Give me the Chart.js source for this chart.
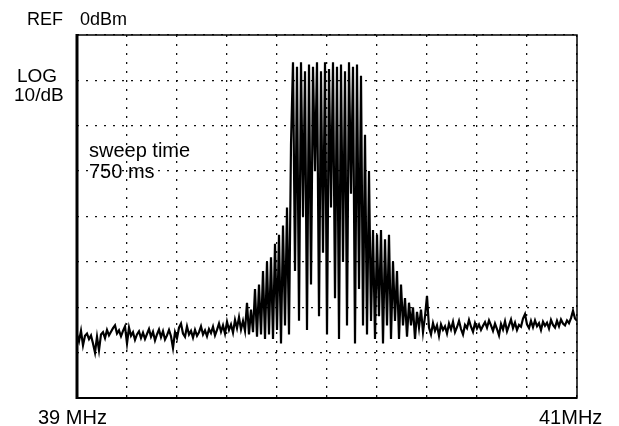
<!DOCTYPE html>
<html>
<head>
<meta charset="utf-8">
<script src="https://cdn.jsdelivr.net/npm/chart.js@4.4.0/dist/chart.umd.min.js"></script>
<style>
  html, body { margin: 0; padding: 0; background: #fff; }
  #wrap { position: relative; width: 619px; height: 426px; }
</style>
</head>
<body>
<div id="wrap"><canvas id="spectrumChart" width="619" height="426"></canvas></div>
<script>
// Spectrum analyzer trace, 39 MHz .. 41 MHz, REF 0 dBm, 10 dB/div

const startMHz = 39;
const stopMHz = 41;
const refLevel = 0;
const bottomLevel = -80;

// noise floor left of the signal (dBm)
const noiseLeft = [
  -66.0, -67.5, -65.2, -68.4, -66.3, -65.8, -67.0, -66.2, -68.0, -70.0,
  -66.5, -69.5, -66.0, -65.5, -66.8, -65.0, -66.2, -65.4, -64.6, -64.0,
  -65.8, -65.1, -66.4, -65.2, -64.2, -68.0, -64.5, -66.3, -65.5, -67.2,
  -66.0, -65.3, -66.8, -65.6, -67.0, -65.9, -64.8, -66.5, -65.4, -67.3,
  -66.0, -64.9, -66.6, -65.3, -67.1, -66.2, -65.0, -66.4, -69.0, -65.5,
  -66.8, -64.5, -63.6, -65.8, -66.5, -64.2, -66.0, -65.2, -66.7, -65.0,
  -66.3, -65.5, -64.2, -66.0, -65.1, -66.4, -64.8, -65.7, -64.3, -66.2,
  -65.0, -63.6, -65.4, -64.0, -65.8, -63.2, -65.0, -63.8, -65.6, -62.8,
  -64.6, -62.2, -64.9, -63.0, -65.2,
];

// rising skirt
const skirtLeft = [
  -59.0, -66.0, -60.5, -65.5, -56.0, -66.5, -55.0, -66.0, -52.0, -67.0,
  -50.0, -66.0, -49.0, -67.0, -46.0, -65.0, -44.0, -68.0, -42.0, -64.0,
  -38.0, -66.0, -24.0,
];

// main lobe
const mainLobe = [
  -6.0, -52.0, -7.0, -63.0, -6.0, -40.0, -8.0, -65.0, -6.5, -55.0,
  -7.0, -30.0, -6.0, -62.0, -8.0, -48.0, -6.0, -66.0, -7.5, -38.0,
  -6.0, -58.0, -7.0, -67.0, -6.5, -50.0, -8.0, -64.0, -6.0, -35.0,
  -7.0, -68.0, -6.5, -56.0, -9.0,
];

// falling skirt
const skirtRight = [
  -64.0, -22.0, -66.0, -30.0, -63.0, -43.0, -67.0, -44.0, -62.0, -43.0,
  -68.0, -45.0, -64.0, -44.0, -67.0, -50.0, -63.0, -52.0, -67.0, -55.0,
  -64.0, -58.0, -66.5, -59.0, -64.0, -60.0, -67.0, -61.0, -64.5, -60.5,
];

// noise floor right of the signal
const noiseRight = [
  -65.5, -62.0, -57.5, -64.5, -66.0, -63.5, -65.2, -64.0, -66.3, -63.8,
  -65.0, -64.2, -65.8, -63.6, -64.9, -63.2, -65.5, -64.4, -63.0, -64.8,
  -66.0, -63.9, -64.6, -62.8, -64.3, -65.4, -63.5, -64.7, -63.8, -65.0,
  -64.1, -63.3, -64.5, -62.9, -64.0, -65.2, -63.6, -64.8, -66.2, -63.7,
  -64.9, -63.1, -65.3, -64.0, -62.7, -64.6, -63.4, -65.0, -63.9, -64.3,
  -62.5, -61.5, -63.8, -64.6, -63.0, -64.4, -62.9, -64.2, -63.5, -65.0,
  -63.2, -64.1, -63.4, -64.7, -62.8, -63.9, -64.5, -63.0, -64.2, -62.7,
  -63.6, -64.0, -62.9, -63.5, -62.4, -60.8, -62.5, -63.0,
];

const trace = [...noiseLeft, ...skirtLeft, ...mainLobe, ...skirtRight, ...noiseRight];
const binWidth = (stopMHz - startMHz) / (trace.length - 1);
const points = trace.map((v, i) => ({ x: startMHz + i * binWidth, y: v }));

const labelFont = "Liberation Sans, Arial, sans-serif";

// frame and panel text
const panelText = {
  id: "panelText",
  afterDraw(chart) {
    const { ctx, chartArea: a } = chart;
    ctx.save();
    ctx.strokeStyle = "#000";
    ctx.lineWidth = 1.5;
    ctx.strokeRect(a.left, a.top, a.right - a.left, a.bottom - a.top);
    ctx.lineWidth = 3;
    ctx.beginPath();
    ctx.moveTo(a.left, a.top - 1);
    ctx.lineTo(a.left, a.bottom + 1);
    ctx.stroke();
    ctx.lineWidth = 2;
    ctx.beginPath();
    ctx.moveTo(a.left, a.bottom);
    ctx.lineTo(a.right, a.bottom);
    ctx.stroke();

    ctx.fillStyle = "#000";
    ctx.textBaseline = "alphabetic";
    ctx.font = "18px " + labelFont;
    ctx.fillText("REF", 27, 25);
    ctx.fillText("0dBm", 80, 25);
    ctx.font = "19px " + labelFont;
    ctx.fillText("LOG", 17, 82);
    ctx.fillText("10/dB", 14, 101);
    ctx.font = "20px " + labelFont;
    ctx.fillText("sweep time", 89, 157);
    ctx.fillText("750 ms", 89, 178);
    ctx.fillText("39 MHz", 38, 424);
    ctx.fillText("41MHz", 539, 424);
    ctx.restore();
  },
};

new Chart(document.getElementById("spectrumChart").getContext("2d"), {
  type: "line",
  data: {
    datasets: [
      {
        label: "Spectrum",
        data: points,
        borderColor: "#000",
        borderWidth: 2.2,
        pointRadius: 0,
        tension: 0,
        fill: false,
      },
    ],
  },
  options: {
    responsive: false,
    animation: false,
    devicePixelRatio: 1,
    layout: { padding: { left: 77, right: 42, top: 35, bottom: 28 } },
    plugins: { legend: { display: false }, tooltip: { enabled: false } },
    scales: {
      x: {
        type: "linear",
        min: startMHz,
        max: stopMHz,
        ticks: { display: false, stepSize: 0.2 },
        border: { display: false, dash: [2, 7] },
        grid: { color: "#111", lineWidth: 1.3, drawTicks: false },
      },
      y: {
        min: bottomLevel,
        max: refLevel,
        ticks: { display: false, stepSize: 10 },
        border: { display: false, dash: [2, 7] },
        grid: { color: "#111", lineWidth: 1.3, drawTicks: false },
      },
    },
  },
  plugins: [panelText],
});
</script>
</body>
</html>
